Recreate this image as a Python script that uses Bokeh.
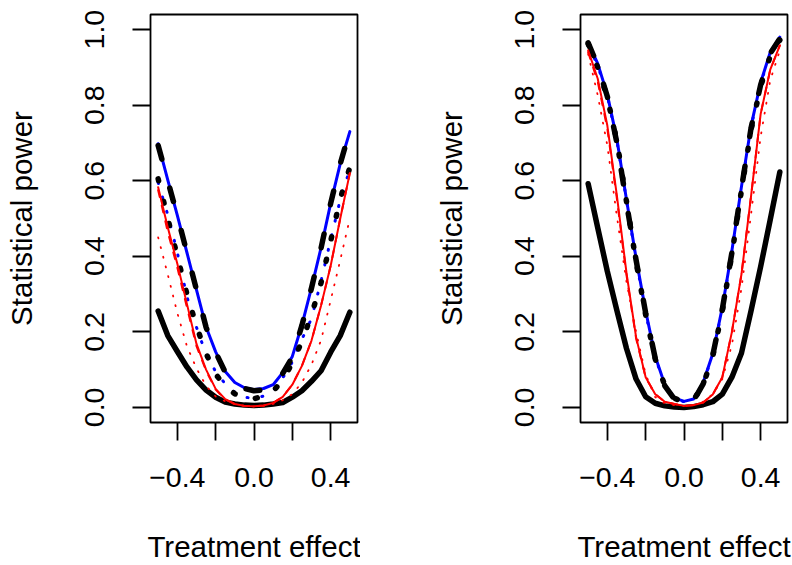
from bokeh.plotting import figure
from bokeh.layouts import row
from bokeh.models import FixedTicker, Range1d
from bokeh.embed import file_html
from bokeh.resources import INLINE

# ---------------- data ----------------
effect = [-0.5, -0.45, -0.4, -0.35, -0.3, -0.25, -0.2, -0.15, -0.1, -0.05, 0.0,
          0.05, 0.1, 0.15, 0.2, 0.25, 0.3, 0.35, 0.4, 0.45, 0.5]

# left panel
left_black_solid = [0.255, 0.19, 0.148, 0.107, 0.073, 0.046, 0.027, 0.014, 0.009, 0.006, 0.005,
                    0.006, 0.009, 0.013, 0.027, 0.044, 0.069, 0.097, 0.146, 0.19, 0.252]
left_black_dashed = [0.693, 0.60, 0.507, 0.41, 0.311, 0.212, 0.146, 0.093, 0.064, 0.05, 0.044,
                     0.046, 0.057, 0.09, 0.133, 0.217, 0.316, 0.422, 0.54, 0.645, 0.733]
left_black_dotted = [0.605, 0.50, 0.40, 0.30, 0.215, 0.143, 0.088, 0.055, 0.036, 0.026, 0.023,
                     0.03, 0.043, 0.072, 0.118, 0.175, 0.245, 0.33, 0.44, 0.552, 0.635]
left_blue_solid = [0.698, 0.602, 0.508, 0.41, 0.311, 0.213, 0.147, 0.095, 0.066, 0.052, 0.047,
                   0.05, 0.06, 0.092, 0.135, 0.218, 0.317, 0.423, 0.54, 0.645, 0.73]
left_blue_dotted = [0.595, 0.51, 0.41, 0.293, 0.212, 0.14, 0.095, 0.062, 0.04, 0.027, 0.024,
                    0.03, 0.045, 0.078, 0.12, 0.18, 0.235, 0.335, 0.444, 0.55, 0.63]
left_red_solid = [0.583, 0.477, 0.38, 0.274, 0.168, 0.10, 0.049, 0.022, 0.009, 0.004, 0.003,
                  0.005, 0.012, 0.028, 0.06, 0.11, 0.177, 0.27, 0.375, 0.50, 0.62]
left_red_dashed = [0.575, 0.465, 0.37, 0.265, 0.162, 0.097, 0.047, 0.021, 0.009, 0.004, 0.003,
                   0.005, 0.012, 0.028, 0.06, 0.11, 0.177, 0.27, 0.375, 0.50, 0.62]
left_red_dotted = [0.45, 0.352, 0.25, 0.162, 0.103, 0.057, 0.029, 0.016, 0.009, 0.004, 0.002,
                   0.004, 0.009, 0.019, 0.035, 0.066, 0.113, 0.178, 0.283, 0.39, 0.50]

# right panel
right_black_solid = [0.592, 0.475, 0.36, 0.256, 0.156, 0.075, 0.028, 0.011, 0.004, 0.001, 0.0,
                     0.002, 0.007, 0.015, 0.035, 0.08, 0.144, 0.256, 0.373, 0.497, 0.623]
right_black_dashed = [0.965, 0.905, 0.823, 0.70, 0.54, 0.39, 0.25, 0.13, 0.057, 0.022, 0.013,
                      0.018, 0.062, 0.138, 0.26, 0.41, 0.58, 0.74, 0.854, 0.937, 0.976]
right_black_dotted = [0.962, 0.90, 0.82, 0.705, 0.545, 0.385, 0.245, 0.128, 0.058, 0.024, 0.015,
                      0.02, 0.06, 0.135, 0.255, 0.405, 0.575, 0.735, 0.85, 0.93, 0.972]
right_blue_solid = [0.965, 0.91, 0.828, 0.71, 0.55, 0.395, 0.255, 0.135, 0.06, 0.025, 0.016,
                    0.022, 0.066, 0.142, 0.265, 0.415, 0.585, 0.745, 0.86, 0.94, 0.98]
right_blue_dotted = [0.96, 0.905, 0.825, 0.705, 0.548, 0.39, 0.25, 0.132, 0.06, 0.024, 0.015,
                     0.02, 0.064, 0.14, 0.262, 0.412, 0.582, 0.742, 0.857, 0.938, 0.978]
right_red_solid = [0.945, 0.87, 0.746, 0.56, 0.356, 0.186, 0.08, 0.035, 0.015, 0.009, 0.004,
                   0.006, 0.013, 0.034, 0.08, 0.2, 0.353, 0.56, 0.777, 0.894, 0.958]
right_red_dashed = [0.94, 0.862, 0.738, 0.552, 0.35, 0.183, 0.079, 0.035, 0.015, 0.009, 0.004,
                    0.006, 0.013, 0.034, 0.08, 0.2, 0.353, 0.56, 0.777, 0.894, 0.958]
right_red_dotted = [0.935, 0.826, 0.693, 0.505, 0.332, 0.2, 0.087, 0.027, 0.011, 0.006, 0.004,
                    0.006, 0.015, 0.035, 0.075, 0.166, 0.316, 0.512, 0.717, 0.866, 0.945]

x_ticks = [-0.4, -0.2, 0.0, 0.2, 0.4]
x_tick_labels = ["\u22120.4", "", "0.0", "", "0.4"]
y_ticks = [0.0, 0.2, 0.4, 0.6, 0.8, 1.0]
y_tick_labels = ["0.0", "0.2", "0.4", "0.6", "0.8", "1.0"]
x_label = "Treatment effect"
y_label = "Statistical power"

FONT = "Liberation Sans"
BLACK = "#000000"
BLUE = "#0000FF"
RED = "#FF0000"

FIG_H = 565


def make_panel(width, b_left, b_right, series):
    p = figure(width=width, height=FIG_H,
               x_range=Range1d(-0.54, 0.54), y_range=Range1d(-0.04, 1.04),
               output_backend="svg", toolbar_location=None,
               min_border_left=b_left, min_border_right=b_right,
               min_border_top=14, min_border_bottom=143)
    p.background_fill_color = "white"
    p.border_fill_color = "white"
    p.xgrid.grid_line_color = None
    p.ygrid.grid_line_color = None
    p.outline_line_color = BLACK
    p.outline_line_width = 1.8
    p.outline_line_alpha = 1.0

    for ax in (p.xaxis[0], p.yaxis[0]):
        ax.axis_line_color = None
        ax.major_tick_line_color = BLACK
        ax.major_tick_line_width = 1.8
        ax.major_tick_out = 18
        ax.major_tick_in = 0
        ax.minor_tick_line_color = None
        ax.major_label_text_font = FONT
        ax.major_label_text_font_size = "28.5px"
        ax.major_label_text_color = BLACK
        ax.axis_label_text_font = FONT
        ax.axis_label_text_font_size = "29.5px"
        ax.axis_label_text_font_style = "normal"
        ax.axis_label_text_color = BLACK

    p.xaxis.ticker = FixedTicker(ticks=x_ticks)
    p.xaxis.major_label_overrides = dict(zip(x_ticks, x_tick_labels))
    p.xaxis.axis_label = x_label
    p.xaxis.major_label_standoff = 27
    p.xaxis.axis_label_standoff = 40

    p.yaxis.ticker = FixedTicker(ticks=y_ticks)
    p.yaxis.major_label_overrides = dict(zip(y_ticks, y_tick_labels))
    p.yaxis.axis_label = y_label
    p.yaxis.major_label_orientation = "vertical"
    p.yaxis.major_label_standoff = 28
    p.yaxis.axis_label_standoff = 45

    for ys, color, lw, dash in series:
        p.line(effect, ys, line_color=color, line_width=lw, line_dash=dash,
               line_cap="round", line_join="round")
    return p


left_series = [
    (left_blue_solid, BLUE, 3, "solid"),
    (left_blue_dotted, BLUE, 3, "1 14"),
    (left_black_solid, BLACK, 5.5, "solid"),
    (left_black_dashed, BLACK, 5.5, "14 30"),
    (left_black_dotted, BLACK, 5.5, "2 21"),
    (left_red_solid, RED, 2, "solid"),
    (left_red_dashed, RED, 2, "7 9"),
    (left_red_dotted, RED, 1.8, "1 9"),
]
right_series = [
    (right_blue_solid, BLUE, 3, "solid"),
    (right_blue_dotted, BLUE, 3, "1 14"),
    (right_black_solid, BLACK, 5.5, "solid"),
    (right_black_dashed, BLACK, 5.5, "14 30"),
    (right_black_dotted, BLACK, 5.5, "2 21"),
    (right_red_solid, RED, 2, "solid"),
    (right_red_dashed, RED, 2, "7 9"),
    (right_red_dotted, RED, 1.8, "1 9"),
]

p_left = make_panel(360, 150, 3, left_series)
p_right = make_panel(432, 220, 5, right_series)

layout = row(p_left, p_right)
open("out.html", "w").write(file_html(layout, INLINE))
